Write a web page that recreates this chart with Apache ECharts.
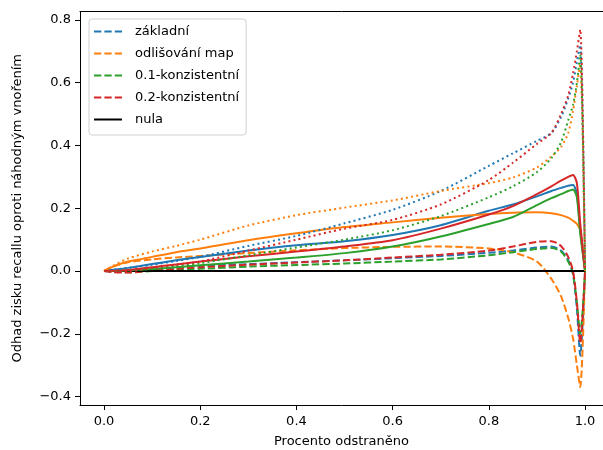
<!DOCTYPE html>
<html>
<head>
<meta charset="utf-8">
<script src="https://cdn.jsdelivr.net/npm/echarts@6/dist/echarts.min.js"></script>
<style>
  html, body { margin: 0; padding: 0; background: #fff; }
  #chart { width: 603px; height: 450px; }
</style>
</head>
<body>
<div id="chart"></div>
<script>
// Share of removed items (x) shared by every curve
const X = [0, 0.02, 0.05, 0.1, 0.15, 0.2, 0.3, 0.4, 0.5, 0.6, 0.7, 0.8, 0.85, 0.9, 0.93, 0.95, 0.965, 0.975, 0.983, 0.99, 1.0];

// základní
const zakladniDashed = [0, -0.002, 0.0, 0.006, 0.011, 0.016, 0.022, 0.028, 0.034, 0.041, 0.048, 0.058, 0.065, 0.075, 0.078, 0.065, 0.035, -0.01, -0.12, -0.27, 0];
const zakladniSolid  = [0, 0.004, 0.01, 0.022, 0.034, 0.045, 0.065, 0.082, 0.095, 0.115, 0.146, 0.192, 0.212, 0.238, 0.255, 0.265, 0.272, 0.274, 0.245, 0.13, 0];
const zakladniDotted = [0, 0.004, 0.01, 0.02, 0.032, 0.045, 0.08, 0.112, 0.152, 0.195, 0.255, 0.335, 0.375, 0.415, 0.44, 0.49, 0.55, 0.6, 0.665, 0.72, 0];

// odlišování map
const odlisovaniDashed = [0, 0.015, 0.028, 0.037, 0.043, 0.048, 0.057, 0.066, 0.073, 0.077, 0.078, 0.072, 0.06, 0.03, -0.025, -0.08, -0.15, -0.215, -0.3, -0.37, 0];
const odlisovaniSolid  = [0, 0.015, 0.03, 0.045, 0.06, 0.072, 0.098, 0.12, 0.14, 0.155, 0.17, 0.182, 0.186, 0.187, 0.184, 0.178, 0.17, 0.16, 0.15, 0.13, 0];
const odlisovaniDotted = [0, 0.018, 0.04, 0.062, 0.08, 0.1, 0.145, 0.178, 0.202, 0.225, 0.255, 0.28, 0.298, 0.33, 0.365, 0.395, 0.44, 0.51, 0.59, 0.66, 0];

// 0.1-konzistentní
const konz01Dashed = [0, -0.002, -0.004, 0.0, 0.004, 0.007, 0.014, 0.019, 0.024, 0.03, 0.037, 0.05, 0.06, 0.07, 0.073, 0.062, 0.03, -0.01, -0.1, -0.2, 0];
const konz01Solid  = [0, 0.0, 0.002, 0.006, 0.012, 0.018, 0.03, 0.043, 0.057, 0.078, 0.11, 0.15, 0.172, 0.21, 0.232, 0.245, 0.255, 0.26, 0.235, 0.12, 0];
const konz01Dotted = [0, 0.0, 0.0, 0.008, 0.015, 0.025, 0.05, 0.075, 0.1, 0.13, 0.175, 0.235, 0.27, 0.315, 0.36, 0.41, 0.48, 0.53, 0.6, 0.69, 0];

// 0.2-konzistentní
const konz02Dashed = [0, -0.004, -0.005, 0.002, 0.007, 0.012, 0.02, 0.027, 0.034, 0.043, 0.052, 0.065, 0.078, 0.093, 0.095, 0.08, 0.045, 0.0, -0.1, -0.23, 0];
const konz02Solid  = [0, 0.001, 0.003, 0.012, 0.021, 0.03, 0.047, 0.062, 0.078, 0.098, 0.135, 0.18, 0.207, 0.245, 0.27, 0.288, 0.3, 0.306, 0.28, 0.15, 0];
const konz02Dotted = [0, 0.0, 0.0, 0.01, 0.02, 0.03, 0.065, 0.1, 0.135, 0.163, 0.212, 0.29, 0.345, 0.405, 0.44, 0.5, 0.56, 0.63, 0.7, 0.77, 0];

const nulaX = [0, 1];
const nulaY = [0, 0];

const xTicks = [0, 0.2, 0.4, 0.6, 0.8, 1.0];
const yTicks = [-0.4, -0.2, 0, 0.2, 0.4, 0.6, 0.8];

const FONT = 'DejaVu Sans';
const DASHED = [7.3, 3.1];
const DOTTED = [2, 3.2];
const COLORS = ['#1f77b4', '#ff7f0e', '#2ca02c', '#d62728'];
const X_MIN = -0.05, X_MAX = 1.0373;
const Y_MIN = -0.427, Y_MAX = 0.827;

const methods = [
  { name: 'základní', dashed: zakladniDashed, solid: zakladniSolid, dotted: zakladniDotted },
  { name: 'odlišování map', dashed: odlisovaniDashed, solid: odlisovaniSolid, dotted: odlisovaniDotted },
  { name: '0.1-konzistentní', dashed: konz01Dashed, solid: konz01Solid, dotted: konz01Dotted },
  { name: '0.2-konzistentní', dashed: konz02Dashed, solid: konz02Solid, dotted: konz02Dotted }
];

function pairs(ys) { return X.map((x, i) => [x, ys[i]]); }
function line(name, ys, color, type, z) {
  return {
    name: name, type: 'line', data: pairs(ys), symbol: 'none', z: z,
    smooth: 0.25,
    lineStyle: { color: color, width: 2, type: type, cap: 'butt' },
    itemStyle: { color: color },
    emphasis: { disabled: true }, silent: true, animation: false
  };
}

const series = [];
methods.forEach((m, i) => series.push(line(m.name, m.dashed, COLORS[i], DASHED, 2)));
series.push({
  name: 'nula', type: 'line', data: nulaX.map((x, i) => [x, nulaY[i]]), symbol: 'none', z: 3,
  lineStyle: { color: '#000', width: 2, type: 'solid' }, itemStyle: { color: '#000' },
  emphasis: { disabled: true }, silent: true, animation: false
});
methods.forEach((m, i) => series.push(line(m.name + ' (plná)', m.solid, COLORS[i], 'solid', 4)));
methods.forEach((m, i) => series.push(line(m.name + ' (tečkovaná)', m.dotted, COLORS[i], DOTTED, 5)));

function fmt(v) { return v.toFixed(1).replace('-', '\u2212'); }

const axisText = { fontFamily: FONT, fontSize: 13, color: '#000' };

const chart = echarts.init(document.getElementById('chart'), null, { renderer: 'canvas' });
chart.setOption({
  backgroundColor: '#fff',
  animation: false,
  textStyle: { fontFamily: FONT },
  grid: { left: 80, right: 0, top: 11.5, bottom: 45, outerBoundsMode: 'none', containLabel: false },
  legend: {
    data: methods.map(m => m.name).concat(['nula']),
    orient: 'vertical', left: 89, top: 19,
    itemWidth: 28, itemHeight: 13, itemGap: 9,
    padding: [6, 7, 9, 4],
    backgroundColor: '#fff', borderColor: '#d0d0d0', borderWidth: 1, borderRadius: 3,
    itemStyle: { opacity: 0 },
    textStyle: { fontFamily: FONT, fontSize: 13, color: '#000', padding: [0, 0, 0, 8] },
    selectedMode: false
  },
  xAxis: [{
    type: 'value', min: X_MIN, max: X_MAX,
    name: 'Procento odstraněno', nameLocation: 'middle', nameGap: 30,
    nameTextStyle: axisText,
    axisLine: { show: true, onZero: false, lineStyle: { color: '#000', width: 1 } },
    axisTick: { show: true, length: 5, customValues: xTicks, lineStyle: { color: '#000' } },
    axisLabel: Object.assign({ customValues: xTicks, formatter: fmt, margin: 10 }, axisText),
    splitLine: { show: false }
  }, {
    type: 'value', min: X_MIN, max: X_MAX, position: 'top',
    axisLine: { show: true, onZero: false, lineStyle: { color: '#000', width: 1 } },
    axisTick: { show: false }, axisLabel: { show: false }, splitLine: { show: false }
  }],
  yAxis: {
    type: 'value', min: Y_MIN, max: Y_MAX,
    name: 'Odhad zisku recallu oproti náhodným vnořením', nameLocation: 'middle', nameGap: 56,
    nameTextStyle: axisText,
    axisLine: { show: true, onZero: false, lineStyle: { color: '#000', width: 1 } },
    axisTick: { show: true, length: 5, customValues: yTicks, lineStyle: { color: '#000' } },
    axisLabel: Object.assign({ customValues: yTicks, formatter: fmt, margin: 9 }, axisText),
    splitLine: { show: false }
  },
  series: series
});
</script>
</body>
</html>
